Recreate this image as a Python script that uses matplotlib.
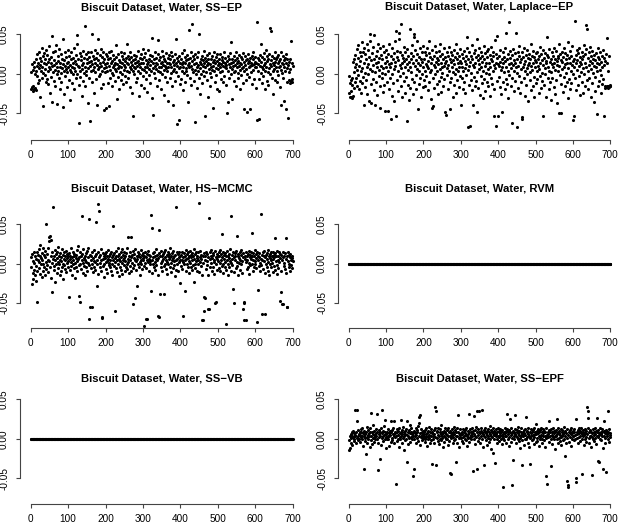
import numpy as np
import matplotlib
matplotlib.use('Agg')
import matplotlib.pyplot as plt

plt.rcParams['font.family'] = ['Liberation Sans', 'DejaVu Sans']

# regression coefficients (x 1e-3), one per wavelength
ssep_coef = [
  -20, 2, -17, 12, -22, 5, -15, 15, -19, 8, 0, -18, 18, 3, -21, 10, 25, -3, 14, -12,
  28, 7, -8, 20, 11, -30, 4, 16, 33, -5, 9, 22, -41, 1, 13, 26, -2, 18, 6, -10,
  30, 12, -7, 24, 3, 15, -13, 8, 35, 19, -25, 6, 14, -4, 21, 10, 48, -36, 2, 27,
  11, -9, 17, 5, 29, -15, 13, 36, 0, 8, -38, 22, 4, 16, -6, 31, 9, -20, 14, 1,
  25, -11, 7, 19, 44, -42, 12, 3, -26, 17, 10, 28, -3, 6, 21, -17, 13, 2, 30, 9,
  15, -8, 23, 5, 11, -33, 18, 2, 27, -12, 9, 20, -1, 14, 32, 7, -19, 16, 4, 24,
  -6, 12, 37, 0, 49, 10, 19, -14, -62, 8, 26, 3, -4, 17, 22, -28, 11, 6, 29, -9,
  14, 1, 20, -16, 60, 9, 25, 4, -2, 18, 13, -37, 7, 28, 15, -5, 21, 10, -60, 3,
  16, 27, 50, -11, 12, 5, 23, 19, -24, 8, 30, 2, 14, -7, 20, 11, -40, 26, 44, 6,
  17, -3, 9, 24, 13, 0, 31, -18, 10, 21, 4, -13, 15, 28, 7, -46, 19, 12, 2, 25,
  8, -44, 14, 22, 3, -12, 18, 27, -41, 10, 5, 20, -6, 13, 29, 1, 16, -15, 9, 24,
  -2, 11, 19, 6, -9, 14, 36, 3, 21, -32, 12, 7, 25, -4, 17, 10, -20, 2, 15, 28,
  -8, 9, 22, 13, 0, 18, -13, 5, 26, 11, -3, 16, 8, 20, -10, 14, 38, 4, 23, -5,
  12, 18, 2, 27, 9, -17, 15, 6, 21, -25, 11, -54, 17, 3, 24, 8, -1, 13, 19, 7,
  -11, 22, 10, 15, -6, 29, 4, 16, -28, 12, 20, 1, 9, 25, -14, 13, 6, 18, -3, 31,
  14, 5, -18, 21, 9, 26, 2, -7, 17, 12, -23, 8, 30, 15, -2, 19, 6, 24, -12, 11,
  3, 16, -31, 22, 45, 7, 13, -52, 18, 1, 10, 27, -5, 14, 20, 6, -15, 12, 25, 4,
  43, 9, -8, 17, 2, 21, 13, -19, 8, 29, -1, 15, 11, 23, -27, 5, 18, 10, -4, 16,
  26, 7, -10, 13, 3, 20, -34, 9, 14, 24, -6, 12, 19, 1, 28, 8, -16, 22, 15, 4,
  -40, 11, 17, 6, 25, -9, 14, 44, 2, -64, 20, 10, -3, 16, -59, 7, 23, 13, -13, 9,
  18, -7, 12, 26, 4, 15, -21, 9, 30, 1, 14, 21, -11, 7, 17, 3, 24, -2, 11, 19,
  -36, 13, 55, 8, -5, 20, 10, 27, -14, 6, 16, 63, 2, 22, -9, 12, 18, -61, 5, 25,
  -1, 14, 9, -18, 21, 11, 3, 28, -6, 50, 15, 7, -26, 19, 12, 0, 23, -12, 10, 17,
  4, 29, -3, 13, 20, -53, 8, 16, 2, 24, -8, 11, 18, -30, 14, 6, 26, 1, -15, 12,
  19, 9, -4, 22, 5, 15, -44, 10, 27, 3, 17, -10, 13, 21, 7, -2, 16, 25, -20, 11,
  6, 14, -22, 19, 9, 25, 2, 12, -7, 17, 21, 4, 15, -11, 10, 27, -3, 13, 8, 20,
  -14, 11, 7, -50, 16, 3, -36, 22, 12, -5, 18, 9, 26, 40, -1, 14, 6, 19, -32, 10,
  15, 23, 2, -9, 17, 11, 4, 28, -16, 8, 13, 20, -6, 16, 1, 24, 10, -19, 14, 5,
  21, 12, -2, 18, 7, 26, -12, 9, -45, 15, 3, 22, 11, -8, 17, 6, 19, 0, -49, 13,
  25, 8, -4, 16, 10, -45, 20, 14, 2, 23, -13, 11, 18, 5, 27, -7, 12, 9, 21, 15,
  8, -18, 14, 65, -58, 20, 3, 12, -7, -57, 17, 10, 24, 37, 1, 15, -12, 9, 21, 6,
  -3, 18, 11, 26, -20, 13, 4, 30, 8, -9, 16, 22, 2, -14, 19, 7, 25, -1, 12, 58,
  10, 54, 17, -5, 23, 14, 3, -26, 11, 20, 6, 28, -8, 15, 9, 18, -11, 4, 21, 13,
  -2, 24, 8, 16, -17, 10, 19, 27, -40, 5, 14, 1, 22, 12, -6, 17, 9, -34, 20, 3,
  -45, 13, 25, 7, -10, 18, 11, -56, 15, 2, -8, 19, -12, 6, 42, -9, 14, -10, -7, 10]

laplace_coef = [
  -3, -25, -12, -30, -8, -29, -22, -31, -14, -5, -28, 15, 2, -18, 18, -10, 8, 24, -6, 12,
  31, -15, 5, 20, -2, 36, -20, 10, 27, -9, 16, 3, -24, 22, 40, -12, 7, 28, -4, -39,
  14, 33, -17, 1, 25, -8, 19, 38, -26, 9, -1, 30, 12, -34, 21, 6, 42, 50, -13, 17,
  -37, 4, 26, 11, -7, 34, 18, -21, 49, 2, -39, 23, 13, -11, 29, 8, -27, 37, 15, -3,
  20, 5, -16, 32, -44, 10, 24, -6, 1, 18, -23, 35, 7, -14, 27, -1, 13, -47, 21, 9,
  30, -10, 16, -47, 4, 25, -19, 12, 37, -5, 8, 22, -57, 14, -28, 33, 0, 19, -12, 26,
  6, -35, 15, 41, 10, 54, -54, 21, -8, 29, 3, -22, 17, 44, 51, -3, 11, 27, -16, 7,
  63, 24, -30, 13, 1, 20, -9, 34, 16, -25, 9, 28, -4, 18, -60, 31, 12, -14, 22, 5,
  -33, 15, 56, 8, -18, 26, 2, 19, -7, 36, 14, -26, 23, 50, 47, -11, 10, 30, -2, 17,
  -20, 6, 41, 25, -45, 13, -13, 21, 4, 32, -6, 11, 18, -29, 27, 0, 15, -17, 35, 9,
  -8, 19, 4, 28, -15, 12, 24, -3, 33, 10, -21, 16, 7, 26, 41, -10, 2, 21, 14, -32,
  5, -43, 18, 30, -6, -41, 11, 23, -18, 8, 35, -1, 15, 27, -13, 20, 3, 17, -26, 12,
  29, -9, 6, 22, 38, -4, 14, -23, 9, 25, 1, 18, -16, 32, 10, -7, 21, 13, -48, -52,
  16, 27, -2, 7, 23, -20, 11, 34, 4, -45, 19, -11, 28, 15, -5, 24, 8, -29, 17, 2,
  30, -14, 12, 21, -1, 37, 6, -24, 18, 26, -8, 13, 3, 22, -17, 9, 31, 16, -3, -40,
  14, -6, 25, 9, -19, 20, 3, 29, -11, 16, 7, -25, 22, 12, -2, 33, 46, -67, 18, 5,
  -14, 27, 10, -66, 15, 23, -8, 1, 36, -21, 19, 11, -40, 26, -4, 8, 30, -15, 13, 21,
  -9, 44, 2, -49, 17, 24, -18, 6, 32, 12, -27, 20, 9, -3, 28, 15, -12, 23, 4, -31,
  18, 35, -7, 10, 26, -22, 14, 1, 29, -10, 21, 6, -16, 31, 13, -1, 24, -28, 8, 19,
  -5, 34, 16, -13, 27, 3, 22, -53, 11, -19, 43, 7, -66, 25, 14, 48, -9, 20, -53, 12,
  -4, 23, 10, 30, -17, 15, 5, -26, 19, 8, -49, 27, 13, -10, 21, 2, 33, -20, 16, 9,
  -7, 52, 18, -13, 25, 4, -31, 12, 66, -2, 20, 29, -15, 7, 14, -62, 24, -5, 11, 31,
  -22, 17, 3, 26, -9, 13, 51, 8, -67, 19, 1, 28, -18, 10, 22, -3, 35, 15, -24, 6,
  18, -11, -55, 27, -57, 9, 21, -6, 32, 12, -28, 16, 4, 24, -14, 30, 7, -1, 20, 11,
  -35, 25, 14, -8, 18, 2, 37, -21, 10, 23, 5, -16, 29, 13, -4, 21, -30, 8, 17, 26,
  -12, 15, 3, 28, -7, 19, 10, -25, 22, 6, 34, -3, 14, -18, 25, 1, 17, -9, 30, -54,
  11, 20, -14, 7, 26, -1, 16, -29, 13, 24, 47, -6, 9, 21, -20, 4, 31, 15, -11, 18,
  2, -33, 27, 12, -5, 22, 8, -17, 33, 14, -26, 19, 5, 29, -8, 16, 11, -37, 23, 3,
  20, 38, -50, 10, 25, -2, 17, -13, -50, 28, 6, 15, -23, 21, 9, 32, -4, 12, -16, 26,
  1, 18, -10, 24, 13, -31, 40, 7, -7, 20, 14, -19, 29, 4, 22, -12, 11, 35, -1, 16,
  -58, -53, 19, 8, 67, -6, 24, 13, -21, 30, 5, 17, -14, 26, 10, -3, 33, 15, -27, 21,
  2, 12, -10, 28, 18, -24, 7, 22, -1, 36, 14, -16, 25, 9, 31, 62, 57, -8, 20, 4,
  -19, 27, 11, -5, 16, 34, -30, 23, 6, 13, -12, 29, 1, 19, -36, 24, 10, -4, 17, -22,
  8, 26, -51, 14, 3, 21, -15, 32, 12, -9, 18, 5, 28, -25, 15, -2, 22, 9, -13, 30,
  -7, 11, -53, 20, 16, -18, -15, 25, -17, 45, -16, 14, -18, -15, 4, -17, 23, -15, -16, -14]

hsmcmc_coef = [
  -5, 8, -26, 12, -12, 3, -20, 15, -8, 1, -15, 10, -3, 6, -22, 14, -10, -49, 4, 11,
  -6, 18, 2, -13, 9, 24, -1, 7, -17, 13, 5, -9, 20, 0, 11, -4, 16, -14, 8, 2,
  -7, 50, 12, -2, 5, 19, -11, 33, 3, 28, -5, 35, 9, -18, 30, 1, 14, -36, 6, 72,
  -3, 10, -8, 17, 4, -24, 12, 0, 7, -12, 15, 2, -6, 21, 9, -1, 5, -15, 13, 3,
  -9, 8, 18, -4, 11, 0, -20, 6, 14, -2, 10, -7, 4, 16, -11, 7, 1, 12, -5, 9,
  3, 13, -43, 6, -8, 10, 2, 19, -3, 8, -14, 5, 15, -1, 9, -6, 12, 1, -18, 7,
  11, -4, 17, 3, -10, 6, 22, -2, 8, -41, 14, 0, -49, 9, -7, 60, 4, 12, -12, 1,
  18, -3, 7, 10, -15, 5, 13, -5, 2, 16, -9, 8, 1, 20, -2, 56, -70, 11, -55, 4,
  -6, 9, -55, 14, 0, 7, -11, 3, 17, -4, 10, 2, -8, 12, 52, -28, 5, -1, 15, -13,
  75, 66, 8, 1, -5, 11, 4, -10, 18, -68, -69, 6, 13, -3, 9, 0, -17, 7, 12, 2,
  -7, 14, 3, 9, -12, 6, 17, -2, 10, 1, -5, 12, 4, -9, 15, 0, 8, -14, 11, 5,
  47, -3, 13, 7, -60, 2, 16, -6, 9, -11, 4, 19, -1, 10, 6, -16, 12, 3, -4, 14,
  8, -8, 1, 18, -13, 5, 11, -2, 7, 15, -10, 3, 9, -5, 13, 0, 20, -7, 6, 2,
  33, -12, 10, 4, 14, -3, 8, 33, -9, 11, 1, 16, -6, -51, 7, 12, -2, 5, 18, -44,
  3, -8, 10, 6, -28, 14, 0, 9, -4, 12, 2, -15, 8, 17, -1, 5, 11, -7, 4, 13,
  7, -3, -79, 10, 1, 14, -6, 8, -70, 4, 12, -70, 2, 16, -9, 6, 11, -1, 9, 3,
  62, -35, 5, 45, -12, 13, 0, 8, -4, 15, 2, 10, -8, 6, 18, -2, 11, 4, -14, 7,
  -67, 13, 42, -68, -38, 9, 1, 16, -5, 10, 3, -10, 12, 6, -38, 14, -3, 8, 0, 17,
  5, -7, 11, 2, -13, 9, 15, -1, 6, 12, -4, 8, 19, 1, -11, 10, 4, 13, -6, 7,
  16, -2, 9, 3, -16, 11, 5, 71, -8, 14, 0, 6, 12, -9, 8, 2, 15, -25, 4, 10,
  -3, 11, 5, 15, -7, 8, -67, 2, 13, -1, 9, -35, 4, 17, -10, 6, 12, 0, 7, -5,
  14, 3, -12, 10, 1, 16, -4, 8, 11, -8, 5, 13, -2, 9, 18, -24, 6, 0, 12, -6,
  3, 15, -9, 7, 10, -1, 14, 4, 77, -11, 8, 2, 16, -3, 11, 6, -14, -72, 9, 1,
  -71, -60, -42, 13, 5, -44, 10, -7, 15, 3, -2, 12, 8, -15, -58, -57, 57, 6, 14, -4,
  9, 1, 17, -10, 7, 11, -5, 13, 2, -13, 4, 16, -50, 8, -49, 0, 12, 6, -8, 10,
  3, 14, -6, 9, 1, 17, -10, 5, 12, 37, -3, 8, 15, 0, -12, 11, 6, -4, 13, 2,
  9, -8, -77, 16, 4, -1, 10, -14, 7, 12, -5, 3, 18, 60, 1, -9, 11, 6, -2, 14,
  -32, -50, 8, -11, 13, 4, 10, -6, 16, 2, 35, -3, 9, 12, -15, 7, 1, 14, -8, 5,
  11, -1, 17, 3, -12, 8, -57, 13, -50, -72, -49, 6, 10, -72, 2, 15, -7, 9, 4, 12,
  -4, 16, 1, -13, 8, 11, -2, 6, 14, 39, 0, 9, -9, 13, 5, -5, 10, 3, 17, -1,
  7, 12, -6, -74, 15, 4, -33, 10, -3, 8, 13, 1, -10, 6, 63, -2, 11, 5, -64, 14,
  -7, 9, 3, 16, -12, -64, 8, 0, 11, -4, 13, 6, -9, 17, 2, 10, -14, 7, 12, -1,
  4, 15, -5, 9, 1, -11, 14, 6, 8, -3, 11, 32, -8, 13, 3, 10, -2, 16, -13, 5,
  9, -6, 14, 2, 12, -48, 7, -10, -36, 11, 4, -51, -51, 8, 15, -3, 10, 1, -7, 13,
  32, 6, -12, 9, -55, -55, 3, 14, -5, 11, 0, 8, -9, 12, 5, -2, 10, -6, 7, 3]

rvm_coef = [0] * 700
ssvb_coef = [0] * 700

ssepf_coef = [
  -2, -14, 3, -12, 6, -5, 1, 9, -8, 4, 10, 2, -3, 7, 0, 5, 37, 3, -6, 8,
  1, 23, 37, 4, 11, -2, 6, 0, 9, -4, 5, 12, 2, 8, -1, 14, 3, 7, -9, 10,
  -38, 4, 1, 6, -3, -19, 9, 2, 15, -6, 5, 11, 0, 7, 3, -11, 8, 13, -2, 33,
  4, 9, -7, 1, 6, 18, 2, -4, 10, 5, -1, 7, 12, 3, 32, 0, 8, -5, -40, 6,
  11, 2, -26, 9, 4, -8, 14, 36, 1, 7, 3, -3, 10, 5, 16, 0, 24, 8, -12, 2,
  6, -1, 9, 4, 12, 0, 7, -9, 3, 10, 5, -4, 23, 8, 1, 11, -2, 6, 14, 3,
  -6, 23, 9, 2, 7, -57, 4, 12, -3, 8, 0, 10, 5, -10, 13, 2, 7, -1, 9, 24,
  4, -5, 11, 6, 1, 15, -14, 8, 3, 10, -2, 6, 12, 0, -29, 22, 5, 9, -7, 3,
  11, 1, 7, 18, -4, 8, 2, 13, 6, -1, 9, -48, 4, -38, 10, 0, 7, 3, 14, -6,
  5, 11, 1, 8, -3, 16, 27, 20, 4, 30, -8, 7, 2, 12, 5, -2, 9, 1, 6, 10,
  3, 8, -4, 11, 0, 6, 13, 2, -9, 7, 4, 10, -1, 5, 15, 1, 8, -6, 3, 12,
  -2, 7, 9, -32, 4, 0, 11, 6, -5, 14, 2, 40, 35, -33, 8, 1, 10, -3, 5, 13,
  -7, 4, 9, 0, 12, 6, -2, 17, 3, 8, 1, -11, 7, 10, 4, -4, 14, 2, 9, -1,
  6, 11, 0, 5, -8, 13, 3, 8, -3, 10, -43, 4, -45, 7, 1, 12, 5, -6, 9, 2,
  15, -2, 6, 11, 0, 8, -29, 3, 13, 4, -5, 30, 9, 1, 7, -10, 12, 5, 2, 6,
  1, 9, -3, 6, 12, 2, -6, 8, 4, 11, 0, 7, -2, 14, 5, 3, -9, 10, 6, 1,
  32, 8, -4, 12, 2, 9, 5, -1, 13, 7, 3, -41, 10, 29, 0, 6, 11, -7, 4, 15,
  2, 8, -38, 35, 5, 12, -3, 9, 1, 35, 7, -5, 10, 3, 14, 36, 0, 8, -11, 6,
  11, 4, -34, 9, 2, 13, -2, 7, 5, 10, -8, 3, 12, 1, 8, -4, 16, 6, 0, 11,
  4, -13, 9, 2, 7, -18, 14, 5, 10, -1, -31, 8, 3, 12, 6, 0, 9, -6, 4, 13,
  2, 10, -3, 7, 5, 12, 0, 8, -7, 4, 11, -61, 6, 1, 9, -2, 14, 3, 7, 10,
  -5, 4, 12, 32, 0, 8, 6, -9, 11, 2, 9, 25, 5, -4, 13, 1, -59, 7, 10, -27,
  3, 8, -1, 12, 6, 30, 4, -6, 9, 2, 11, 0, 7, 15, -3, 5, 10, 1, -12, 8,
  4, 13, -2, -34, 6, 9, 3, 11, -8, 7, 0, 12, 5, -1, 27, 8, 2, 10, -5, 6,
  14, 3, -10, 9, 1, -32, 7, 12, 4, -2, 8, 0, 11, 5, -7, 13, 2, 9, 6, -4,
  6, 19, 1, 10, -3, 7, 12, 4, -9, 8, 2, 11, -1, 5, 14, 0, 9, -6, 3, 12,
  7, -2, 10, 4, -11, 8, 1, 13, -48, 5, -58, 9, 2, 6, 22, -4, 11, 3, 8, 0,
  12, -35, 5, 9, -7, 14, 2, 7, -1, 10, 4, 8, -13, 11, 3, 6, 0, 25, 9, -5,
  13, 1, 7, 10, -3, 5, 12, 2, -8, 8, 4, 11, -2, 6, 15, 0, 9, -22, 3, 10,
  -6, 7, 12, 1, -54, -59, -61, 5, 8, -4, 11, 2, 9, 6, -9, 13, 0, 7, 4, 10,
  3, 8, -2, 12, 5, 0, 25, -55, -50, 9, 6, 1, 11, -5, 7, 14, 2, 10, -3, 4,
  8, 13, -1, 6, -45, 9, 3, 11, -8, 5, 0, 12, 7, 2, -4, 10, 40, 6, 13, 35,
  26, 1, 9, -6, 4, 11, 3, 8, -10, -46, 7, 2, 12, 0, 5, 9, -3, 14, 6, 1,
  10, -7, 26, 4, 8, 11, 2, -28, 7, -30, 5, 13, 0, 9, -2, 6, 12, 3, 8, -12,
  -39, 4, 22, 10, 1, 7, -5, -42, 11, 3, 9, 6, 35, 0, 8, -4, 12, 5, 2, 7]

titles = ['Biscuit Dataset, Water, SS\u2212EP', 'Biscuit Dataset, Water, Laplace\u2212EP',
          'Biscuit Dataset, Water, HS\u2212MCMC', 'Biscuit Dataset, Water, RVM',
          'Biscuit Dataset, Water, SS\u2212VB', 'Biscuit Dataset, Water, SS\u2212EPF']
series = [ssep_coef, laplace_coef, hsmcmc_coef, rvm_coef, ssvb_coef, ssepf_coef]
xticks = [0, 100, 200, 300, 400, 500, 600, 700]
yticks = [-0.05, 0.0, 0.05]

W, H = 619., 523.
# pixel layout: (left edge, right edge) per column; (x-axis y, zero y, px per unit, title baseline) per row
cols = [(20.2, 303.2), (338.2, 620.8)]
rows = [(140.0, 73.7, 790., 10.0), (327.8, 263.5, 790., 191.5), (504.0, 438.7, 787., 381.5)]

def draw(fig, vals, title, col, row):
  l, r = cols[col]
  ay, zy, sc, ty = rows[row]
  half = ay - zy
  ax = fig.add_axes([l / W, (H - ay) / H, (r - l) / W, 2 * half / H])
  y = np.array(vals) / 1000.
  x = np.arange(1, len(y) + 1)
  ax.scatter(x, y, s=5, c='black', marker='o', linewidths=0)
  ax.set_xlim(-28, 728)
  ax.set_ylim(-half / sc, half / sc)
  ax.set_xticks(xticks)
  ax.set_yticks(yticks)
  ax.set_yticklabels(['%.2f' % t for t in yticks])
  for s in ['top', 'right']:
    ax.spines[s].set_visible(False)
  ax.spines['bottom'].set_bounds(0, 700)
  ax.spines['left'].set_bounds(-0.05, 0.05)
  for s in ['bottom', 'left']:
    ax.spines[s].set_color('#444444')
    ax.spines[s].set_linewidth(0.8)
  ax.tick_params(length=3, width=0.8, color='#444444', labelsize=7.2, pad=4.5)
  ax.tick_params(axis='y', labelrotation=90, pad=5)
  for t in ax.get_yticklabels():
    t.set_va('center')
  ax.patch.set_visible(False)
  fig.text((l + r) / 2 / W, 1 - ty / H, title, ha='center', va='baseline',
           fontsize=8.1, fontweight='bold')

def main():
  fig = plt.figure(figsize=(6.19, 5.23), dpi=100)
  for i in range(6):
    draw(fig, series[i], titles[i], i % 2, i // 2)
  fig.savefig('out.png', dpi=100)

if __name__ == '__main__':
  main()
